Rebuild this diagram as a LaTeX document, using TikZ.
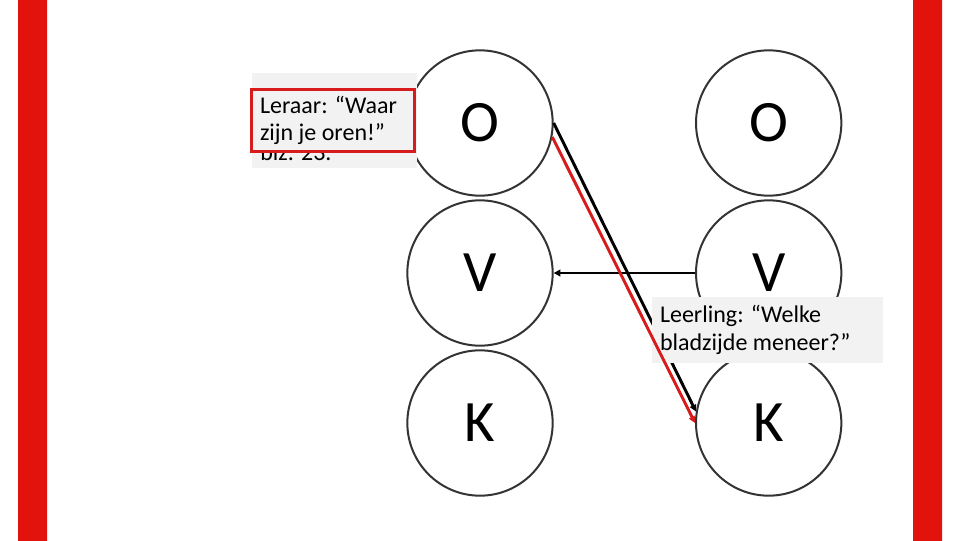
\documentclass[tikz,border=0pt]{standalone}
\usepackage{fontspec}
\setmainfont{Carlito}
\usetikzlibrary{positioning, arrows.meta}
\definecolor{barred}{RGB}{226,18,12}
\definecolor{bardark}{RGB}{190,38,26}
\definecolor{linered}{RGB}{214,28,28}
\definecolor{boxgray}{RGB}{242,242,242}

\begin{document}
\begin{tikzpicture}[
        x=0.75pt, y=-0.75pt,
        node distance = 2pt and 106pt,
        ball/.style  = {draw=black!80, line width=1.5pt, circle, minimum size=109pt, inner sep=0pt, font=\fontsize{44}{44}\selectfont},
        quote/.style = {fill=boxgray, align=flush left, inner ysep=0pt, font=\fontsize{18}{20.5}\selectfont},
        arrow/.style = {-{Triangle[length=5pt, width=5pt]}, line width=2.2pt},
    ]
        \useasboundingbox (0,0) rectangle (960,540);
        \shade[left color=barred, middle color=bardark, right color=barred] (18,0) rectangle (47,540);
        \shade[left color=barred, middle color=bardark, right color=barred] (913,0) rectangle (942,540);

        \node[ball] (oL) at (480,123) {O};
        \node[ball, below=of oL] (vL) {V};
        \node[ball, below=of vL] (kL) {K};

        \node[ball, right=of oL] (oR) {O};
        \node[ball, right=of vL] (vR) {V};
        \node[ball, right=of kL] (kR) {K};

        \draw[arrow] (oL.east) -- (kR.171);
        \draw[arrow] (vR.west) -- (vL.east);

        \node[fill=boxgray, minimum width=123.75pt, minimum height=71.25pt, inner sep=0pt, anchor=north west] (blzbox) at (252,73) {};
        \node[font=\fontsize{18}{20.5}\selectfont, inner sep=0pt, anchor=base west] (blz) at (260,160) {blz. 23.};

        \node[quote, draw=linered, line width=2.2pt, minimum width=122.3pt, minimum height=46.5pt, text width=109.5pt, inner xsep=6.4pt] (leraar) at (333,120.5) {Leraar: “Waar\\zijn je oren!”};
        \node[quote, minimum width=173.25pt, minimum height=49.5pt, text width=161.25pt, inner xsep=6pt] (leerling) at (767.5,330) {Leerling: “Welke\\bladzijde meneer?”};

        \draw[arrow, linered] (oL.-11) -- (kR.west);
    \end{tikzpicture}
\end{document}
